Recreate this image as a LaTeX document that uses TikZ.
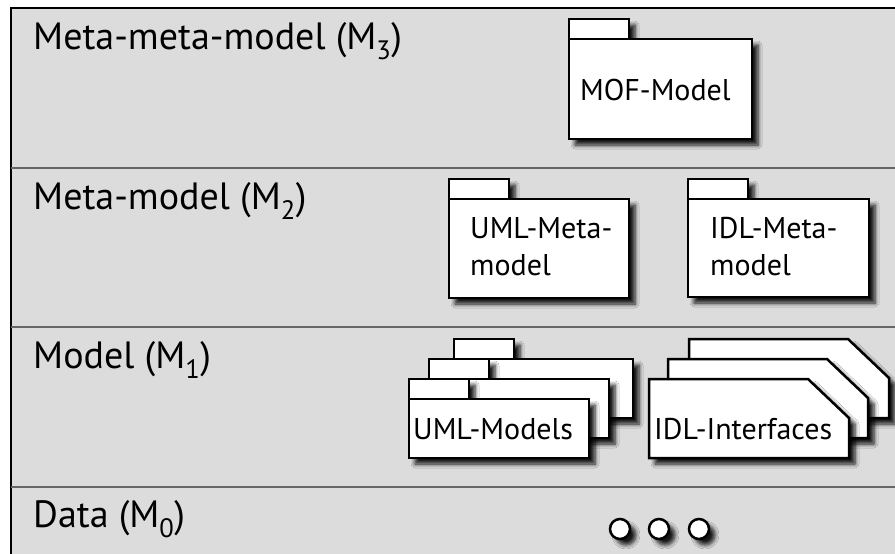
\documentclass[tikz,border=0pt]{standalone}
\usepackage{fontspec}
\setmainfont{PT Sans}
\usetikzlibrary{shadows.blur}
\definecolor{layergray}{HTML}{DCDCDC}
\definecolor{sepgray}{HTML}{666666}
\tikzset{
	pkgbox/.style={draw=black, line width=2.5pt, fill=white, line join=miter,
		blur shadow={shadow xshift=6pt, shadow yshift=-6pt, shadow blur steps=6, shadow blur radius=4pt, shadow opacity=90}},
	layerlabel/.style={anchor=base west, inner sep=0pt, font=\fontsize{38}{44}\selectfont},
	pkglabel/.style={anchor=base west, inner sep=0pt, align=left, font=\fontsize{30}{37}\selectfont},
	sepline/.style={draw=sepgray, line width=2.5pt},
}
% package: left, top of body, right, bottom
\def\pkg(#1,#2,#3,#4){\draw[pkgbox] (#1,#2-20) rectangle (#1+60,#2); \draw[pkgbox] (#1,#2) rectangle (#3,#4);}
% interface card: left, top
\def\iface(#1,#2){\draw[pkgbox] (#1,#2) -- (#1+159,#2) -- (#1+200,#2+39) -- (#1+200,#2+79) -- (#1,#2+79) -- cycle;}

\begin{document}
\begin{tikzpicture}[x=1pt, y=-1pt]
			%%%%% START %%%%%
			\useasboundingbox (0,0) rectangle (895,554);
			\fill[white] (0,0) rectangle (895,554);
			\fill[layergray] (11,8) rectangle (895,554);
			\draw[line width=2.5pt] (11,554) -- (11,8) -- (895,8);
			
			\draw[sepline] (11,168) -- (895,168);
			\draw[sepline] (11,327) -- (895,327);
			\draw[sepline] (11,487) -- (895,487);
			
			\node[layerlabel] (m3) at (33,49) {Meta-meta-model (M\textsubscript{3})};
			\node[layerlabel] (m2) at (33,209) {Meta-model (M\textsubscript{2})};
			\node[layerlabel] (m1) at (33,368) {Model (M\textsubscript{1})};
			\node[layerlabel] (m0) at (33,527) {Data (M\textsubscript{0})};
			
			% M3
			\pkg(569,39,752,139);
			\node[pkglabel] (mof) at (580,100) {MOF-Model};
			
			% M2 (base = last line)
			\pkg(449,199,629,298);
			\node[pkglabel] (umlmeta) at (470,275) {UML-Meta-\\model};
			\pkg(688,199,869,297);
			\node[pkglabel] (idlmeta) at (710,275) {IDL-Meta-\\model};
			
			% M1
			\pkg(454,359,633,418);
			\pkg(429,379,609,438);
			\pkg(409,399,589,458);
			\node[pkglabel] (umlmodels) at (413,439) {UML-Models};
			
			\iface(689,339);
			\iface(668,359);
			\iface(649,379);
			\node[pkglabel] (idlif) at (654,439) {IDL-Interfaces};
			
			% M0
			\draw[pkgbox] (620,529) circle (10);
			\draw[pkgbox] (659,529) circle (10);
			\draw[pkgbox] (699,529) circle (10);
			%%%%% END %%%%%
\end{tikzpicture}
\end{document}
